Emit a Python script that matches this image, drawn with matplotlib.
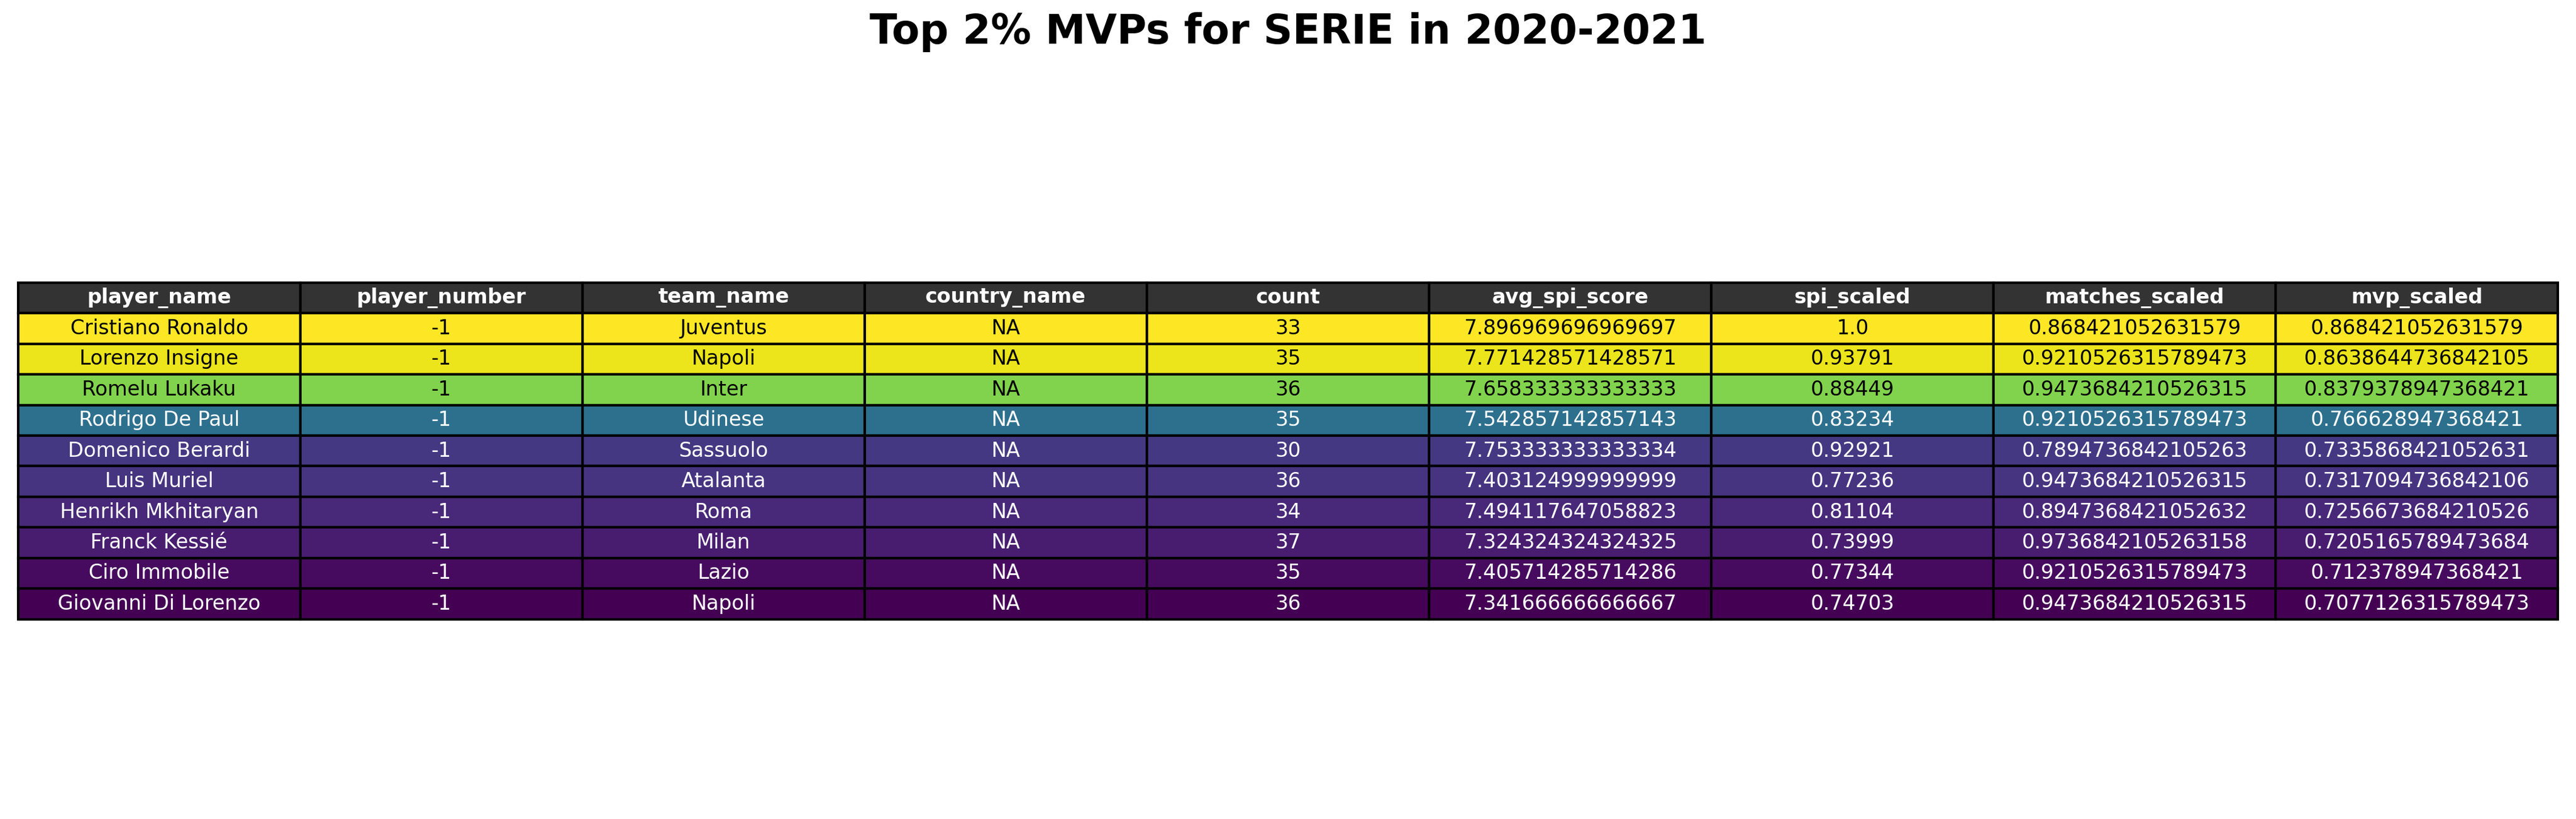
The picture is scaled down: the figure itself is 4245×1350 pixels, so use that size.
import matplotlib
matplotlib.use("Agg")
import matplotlib.pyplot as plt
from matplotlib import cm, colors

columns = ["player_name", "player_number", "team_name", "country_name", "count",
           "avg_spi_score", "spi_scaled", "matches_scaled", "mvp_scaled"]
player_name = ["Cristiano Ronaldo", "Lorenzo Insigne", "Romelu Lukaku", "Rodrigo De Paul",
               "Domenico Berardi", "Luis Muriel", "Henrikh Mkhitaryan", "Franck Kessié",
               "Ciro Immobile", "Giovanni Di Lorenzo"]
player_number = [-1] * 10
team_name = ["Juventus", "Napoli", "Inter", "Udinese", "Sassuolo", "Atalanta", "Roma",
             "Milan", "Lazio", "Napoli"]
country_name = ["NA"] * 10
count = [33, 35, 36, 35, 30, 36, 34, 37, 35, 36]
avg_spi_score = ["7.896969696969697", "7.771428571428571", "7.658333333333333",
                 "7.542857142857143", "7.753333333333334", "7.403124999999999",
                 "7.494117647058823", "7.324324324324325", "7.405714285714286",
                 "7.341666666666667"]
spi_scaled = ["1.0", "0.93791", "0.88449", "0.83234", "0.92921", "0.77236", "0.81104",
              "0.73999", "0.77344", "0.74703"]
matches_scaled = ["0.868421052631579", "0.9210526315789473", "0.9473684210526315",
                  "0.9210526315789473", "0.7894736842105263", "0.9473684210526315",
                  "0.8947368421052632", "0.9736842105263158", "0.9210526315789473",
                  "0.9473684210526315"]
mvp_scaled = ["0.868421052631579", "0.8638644736842105", "0.8379378947368421",
              "0.766628947368421", "0.7335868421052631", "0.7317094736842106",
              "0.7256673684210526", "0.7205165789473684", "0.712378947368421",
              "0.7077126315789473"]

rows = [[player_name[i], str(player_number[i]), team_name[i], country_name[i], str(count[i]),
         avg_spi_score[i], spi_scaled[i], matches_scaled[i], mvp_scaled[i]] for i in range(10)]

mvp = [float(v) for v in mvp_scaled]
norm = colors.Normalize(vmin=min(mvp), vmax=max(mvp))
cmap = matplotlib.colormaps["viridis"]

fig = plt.figure(figsize=(14.15, 4.5), dpi=300)
ax = fig.add_axes([0.007, 0.244, 0.986, 0.411])
ax.axis("off")
tab = ax.table(cellText=rows, colLabels=columns, loc="center", cellLoc="center",
               bbox=[0, 0, 1, 1])
tab.auto_set_font_size(False)
tab.set_fontsize(8)
for (r, c), cell in tab.get_celld().items():
    cell.set_edgecolor("black")
    cell.set_linewidth(1.0)
    if r == 0:
        cell.set_facecolor("#333333")
        cell.get_text().set_color("white")
        cell.get_text().set_fontweight("bold")
    else:
        v = norm(mvp[r - 1])
        cell.set_facecolor(cmap(v))
        cell.get_text().set_color("black" if v > 0.5 else "white")
fig.suptitle("Top 2% MVPs for SERIE in 2020-2021", fontsize=16, fontweight="bold", y=0.985)
fig.savefig("out.png", dpi=300)
